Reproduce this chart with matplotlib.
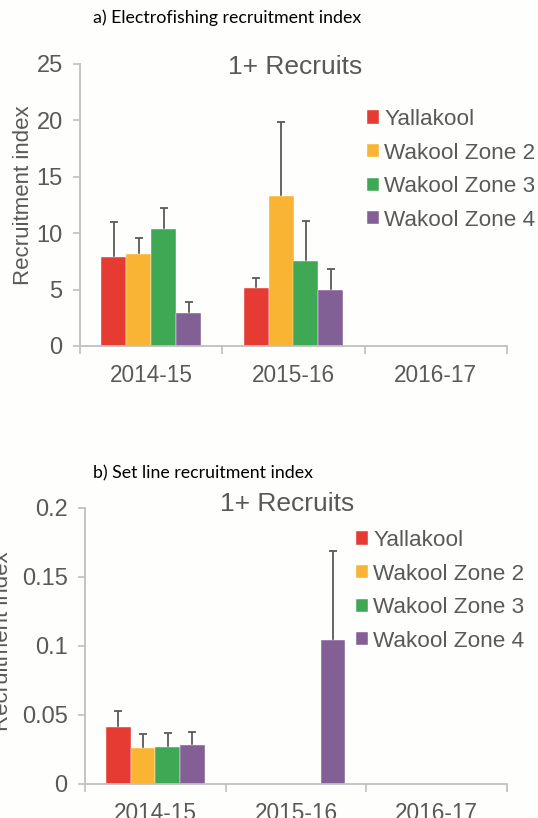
import numpy as np
import matplotlib
matplotlib.use("Agg")
import matplotlib.pyplot as plt
from matplotlib.patches import Patch

seasons = ["2014-15", "2015-16", "2016-17"]
sites = ["Yallakool", "Wakool Zone 2", "Wakool Zone 3", "Wakool Zone 4"]
colors = ["#e53b33", "#f8b432", "#3fa854", "#826096"]

# electrofishing index: mean and upper error bar end, per site (rows) x season (cols)
ef_mean = [[7.9, 5.1, np.nan],
           [8.2, 13.3, np.nan],
           [10.4, 7.5, np.nan],
           [2.9, 5.0, np.nan]]
ef_upper = [[11.0, 6.0, np.nan],
            [9.6, 19.9, np.nan],
            [12.2, 11.1, np.nan],
            [3.9, 6.8, np.nan]]

# set line index
sl_mean = [[0.041, np.nan, np.nan],
           [0.026, np.nan, np.nan],
           [0.027, np.nan, np.nan],
           [0.028, 0.104, np.nan]]
sl_upper = [[0.053, np.nan, np.nan],
            [0.036, np.nan, np.nan],
            [0.037, np.nan, np.nan],
            [0.038, 0.169, np.nan]]

TXT = "#595959"
AXC = "#bfbfbf"
plt.rcParams.update({"font.family": ["Liberation Sans", "DejaVu Sans"],
                     "text.color": TXT, "axes.labelcolor": TXT,
                     "xtick.color": AXC, "ytick.color": AXC,
                     "xtick.labelcolor": TXT, "ytick.labelcolor": TXT})

W, H = 538, 818
fig = plt.figure(figsize=(W / 100, H / 100), dpi=100)
fig.patch.set_facecolor("#fefefc")


def px_axes(l, t, r, b):
    return fig.add_axes([l / W, 1 - b / H, (r - l) / W, (b - t) / H])


def panel(ax, mean, upper, ylim, yticks):
    x = np.arange(len(seasons))
    bw = 0.175
    for i, (m, u, c) in enumerate(zip(mean, upper, colors)):
        pos = x + (i - 1.5) * bw
        m = np.array(m, float)
        u = np.array(u, float)
        ax.bar(pos, m, bw, color=c, edgecolor="white", linewidth=0.3, zorder=2)
        _, caps, _ = ax.errorbar(pos, m, yerr=[np.zeros_like(m), u - m], fmt="none",
                                 ecolor=TXT, elinewidth=1.3, capsize=2.6,
                                 capthick=1.3, zorder=1)
        caps[0].set_visible(False)
    ax.set_xlim(-0.5, len(seasons) - 0.5)
    ax.set_ylim(*ylim)
    ax.set_yticks(yticks)
    ax.set_yticklabels([f"{v:g}" for v in yticks], fontsize=17)
    ax.set_xticks(np.arange(len(seasons) + 1) - 0.5)
    ax.set_xticklabels([])
    ax.set_xticks(x, minor=True)
    ax.set_xticklabels(seasons, minor=True, fontsize=16.3)
    ax.tick_params(axis="x", which="major", length=6, width=1.2, direction="out")
    ax.tick_params(axis="x", which="minor", length=0, pad=13)
    ax.tick_params(axis="y", length=5, width=1.2, pad=7.5)
    for s in ["top", "right"]:
        ax.spines[s].set_visible(False)
    for s in ["left", "bottom"]:
        ax.spines[s].set_color(AXC)
        ax.spines[s].set_linewidth(1.3)
    ax.set_facecolor("none")


def legend(left, top):
    handles = [Patch(facecolor=c, edgecolor="white", linewidth=0.3) for c in colors]
    fig.legend(handles, sites, loc="upper left",
               bbox_to_anchor=(left / W, 1 - top / H),
               frameon=False, fontsize=16.2, handlelength=0.52, handleheight=0.52,
               handletextpad=0.25, labelspacing=0.56, borderaxespad=0,
               borderpad=0, labelcolor=TXT)


# a) electrofishing
ax1 = px_axes(80, 64, 507, 346)
panel(ax1, ef_mean, ef_upper, (0, 25), [0, 5, 10, 15, 20, 25])
fig.text(34 / W, 1 - 195 / H, "Recruitment index", fontsize=16, rotation=90,
         ha="right", va="center")
fig.text(93 / W, 1 - 18 / H, "a) Electrofishing recruitment index",
         fontsize=12.8, family=["Lato", "DejaVu Sans"], color="black", va="center")
fig.text(295 / W, 1 - 67 / H, "1+ Recruits", fontsize=19, ha="center", va="center")
legend(367, 109)

# b) set line
ax2 = px_axes(85, 507.7, 507, 784)
panel(ax2, sl_mean, sl_upper, (0, 0.2), [0, 0.05, 0.1, 0.15, 0.2])
fig.text(13.5 / W, 1 - 641 / H, "Recruitment index", fontsize=16, rotation=90,
         ha="right", va="center")
fig.text(93 / W, 1 - 473 / H, "b) Set line recruitment index",
         fontsize=12.8, family=["Lato", "DejaVu Sans"], color="black", va="center")
fig.text(287 / W, 1 - 504 / H, "1+ Recruits", fontsize=19, ha="center", va="center")
legend(356, 530)

fig.savefig("out.png", dpi=100, facecolor=fig.get_facecolor())
